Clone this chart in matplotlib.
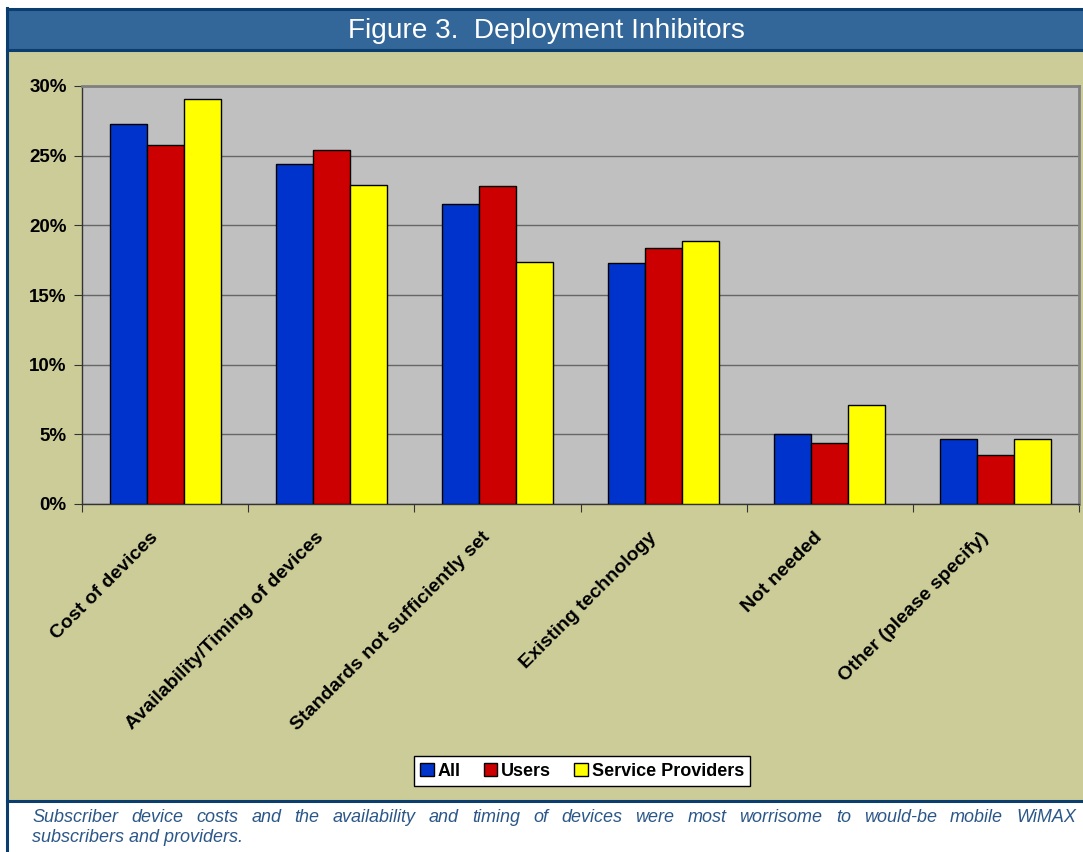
import matplotlib
matplotlib.use('Agg')
import matplotlib.pyplot as plt
from matplotlib.patches import Rectangle
from matplotlib.lines import Line2D
import numpy as np

# Survey results: share of respondents naming each inhibitor
categories = ['Cost of devices', 'Availability/Timing of devices',
              'Standards not sufficiently set', 'Existing technology',
              'Not needed', 'Other (please specify)']
all_resp = [27.3, 24.4, 21.5, 17.3, 5.0, 4.7]
users = [25.8, 25.4, 22.8, 18.4, 4.4, 3.5]
providers = [29.1, 22.9, 17.4, 18.9, 7.1, 4.7]
series_names = ['All', 'Users', 'Service Providers']
series_colors = ['#0033CC', '#CC0000', '#FFFF00']
yticks = [0, 5, 10, 15, 20, 25, 30]

title = 'Figure 3.  Deployment Inhibitors'
caption_1 = ('Subscriber device costs and the availability and timing of devices '
             'were most worrisome to would-be mobile WiMAX')
caption_2 = 'subscribers and providers.'

W, H = 1083, 852
plt.rcParams['font.family'] = ['Liberation Sans', 'DejaVu Sans']
fig = plt.figure(figsize=(W / 100, H / 100), dpi=100)
fig.patch.set_facecolor('white')


def fx(px):
    return px / W


def fy(py):
    return 1 - py / H


navy = '#0B3D6E'
# title bar, tan panel and borders (kept under the axes)
fig.add_artist(Rectangle((fx(7), fy(50)), fx(W - 7), fy(9) - fy(50),
                         transform=fig.transFigure, facecolor='#336699',
                         edgecolor='none', zorder=-5))
fig.add_artist(Rectangle((fx(7), fy(801)), fx(W - 7), fy(50) - fy(801),
                         transform=fig.transFigure, facecolor='#CCCC99',
                         edgecolor='none', zorder=-5))
for y in (9, 50, 801):
    fig.add_artist(Line2D([fx(7), 1], [fy(y), fy(y)], transform=fig.transFigure,
                          color=navy, lw=2.2, zorder=-4))
fig.add_artist(Line2D([fx(7), fx(7)], [fy(8), 0], transform=fig.transFigure,
                      color=navy, lw=2.2, zorder=-4))
fig.text(fx(546), fy(31), title, color='white', fontsize=20.2,
         ha='center', va='center')

ax = fig.add_axes([fx(82), fy(504), fx(1079 - 82), fy(86) - fy(504)])
ax.set_facecolor('#C0C0C0')

x = np.arange(len(categories))
w = 0.223
for i, (vals, name, col) in enumerate(zip([all_resp, users, providers], series_names, series_colors)):
    ax.bar(x + (i - 1) * w, vals, width=w, color=col, edgecolor='black',
           linewidth=1.0, label=name, zorder=3)

ax.set_xlim(-0.5, len(categories) - 0.5)
ax.set_ylim(0, 30)
ax.set_yticks(yticks)
ax.set_yticklabels([f'{v}%' for v in yticks], fontsize=13.5, fontweight='bold')
ax.yaxis.grid(True, color='#666666', lw=1.0, zorder=1)
ax.set_axisbelow(True)

# boundary ticks between groups, category names drawn on the diagonal
ax.set_xticks(np.arange(-0.5, len(categories)), labels=[])
for xi, name in zip(x, categories):
    ax.annotate(name, xy=(xi, 0), xycoords=('data', 'axes fraction'),
                xytext=(-11.5, -18), textcoords='offset points',
                rotation=45, rotation_mode='anchor', ha='right', va='top',
                fontsize=14, fontweight='bold', annotation_clip=False)
ax.tick_params(axis='x', which='major', length=6, color='#333333', direction='out')
ax.tick_params(axis='y', length=6, color='#333333', direction='out', pad=5)

for s in ('left', 'bottom'):
    ax.spines[s].set_color('#333333')
    ax.spines[s].set_linewidth(1.0)
for s in ('top', 'right'):
    ax.spines[s].set_color('#808080')
    ax.spines[s].set_linewidth(2.0)

leg = fig.legend(loc='center', bbox_to_anchor=(fx(582), fy(771)), ncol=3,
                 frameon=True, fancybox=False, edgecolor='black', framealpha=1,
                 prop={'weight': 'bold', 'size': 13}, handlelength=0.75,
                 handleheight=0.75, handletextpad=0.2, columnspacing=1.3,
                 borderpad=0.35)
leg.get_frame().set_linewidth(1.0)

# justified first caption line, word by word
cap_color = '#2B5788'
fig.canvas.draw()
renderer = fig.canvas.get_renderer()
words = caption_1.split()
texts = [fig.text(0, fy(817), wd, fontsize=13, style='italic', color=cap_color,
                  va='center') for wd in words]
widths = [t.get_window_extent(renderer).width for t in texts]
left, right = 32, 1076
gap = (right - left - sum(widths)) / (len(words) - 1)
pos = left
for t, wdt in zip(texts, widths):
    t.set_x(fx(pos))
    pos += wdt + gap
fig.text(fx(left), fy(837), caption_2, fontsize=13, style='italic',
         color=cap_color, va='center')

fig.savefig('out.png', dpi=100)
